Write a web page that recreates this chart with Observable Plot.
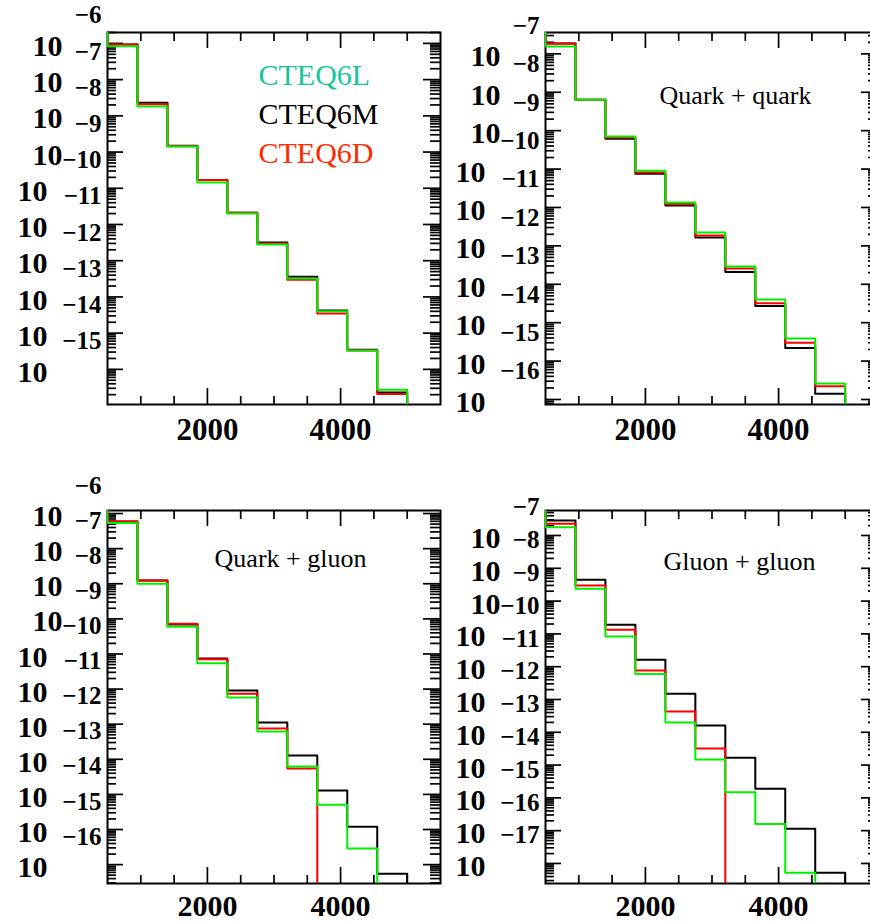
<!DOCTYPE html>
<html><head><meta charset="utf-8">
<script src="https://cdn.jsdelivr.net/npm/d3@7"></script>
<script src="https://cdn.jsdelivr.net/npm/@observablehq/plot@0.6"></script>
<style>
html,body{margin:0;padding:0;background:#fff;overflow:hidden;}
#fig{position:relative;width:870px;height:923px;overflow:hidden;background:#fff;}
#fig svg{position:absolute;}
</style></head><body><div id="fig"></div>
<script>
// ---- data ----
const binEdges = [500, 950, 1400, 1850, 2300, 2750, 3200, 3650, 4100, 4550, 5000];
const xMajorTicks = [2000, 4000];
const xMinorTicks = [1000, 1500, 2500, 3000, 3500, 4500, 5000];
const seriesNames = ["CTEQ6L", "CTEQ6M", "CTEQ6D"];

// total
const totalL = [8.3e-7, 1.8e-8, 1.43e-9, 1.45e-10, 2.0e-11, 2.8e-12, 3.2e-13, 4.0e-14, 3.3e-15, 2.75e-16];
const totalM = [9.3e-7, 2.3e-8, 1.5e-9, 1.7e-10, 2.1e-11, 3.2e-12, 3.6e-13, 4.2e-14, 3.5e-15, 2.3e-16];
const totalD = [9.3e-7, 2.1e-8, 1.45e-9, 1.7e-10, 2.1e-11, 3.0e-12, 3.0e-13, 3.5e-14, 3.3e-15, 2.1e-16];
// quark + quark
const qqL = [1.55e-7, 6.4e-9, 7.0e-10, 9.1e-11, 1.35e-11, 2.24e-12, 2.9e-13, 4.0e-14, 3.9e-15, 2.6e-16];
const qqM = [1.86e-7, 6.4e-9, 6.2e-10, 7.6e-11, 1.12e-11, 1.65e-12, 2.1e-13, 2.7e-14, 2.2e-15, 1.4e-16];
const qqD = [1.86e-7, 6.4e-9, 6.6e-10, 8.1e-11, 1.24e-11, 1.86e-12, 2.57e-13, 3.2e-14, 3.0e-15, 2.2e-16];
// quark + gluon
const qgL = [5.4e-7, 1.0e-8, 6.0e-10, 5.4e-11, 5.8e-12, 6.2e-13, 6.2e-14, 5.1e-15, 2.9e-16, 0];
const qgM = [5.9e-7, 1.23e-8, 6.9e-10, 7.4e-11, 9.1e-12, 1.12e-12, 1.29e-13, 1.29e-14, 1.2e-15, 5.5e-17];
const qgD = [5.9e-7, 1.23e-8, 7.2e-10, 7.1e-11, 7.4e-12, 7.5e-13, 5.5e-14, 0, 0, 0];
// gluon + gluon
const ggL = [1.79e-7, 2.37e-9, 8.3e-11, 6.0e-12, 2.0e-13, 1.48e-14, 1.48e-15, 1.6e-16, 5.2e-18, 0];
const ggM = [2.86e-7, 4.46e-9, 1.9e-10, 1.63e-11, 1.5e-12, 1.6e-13, 1.67e-14, 1.9e-15, 1.15e-16, 5.2e-18];
const ggD = [2.27e-7, 3.0e-9, 1.33e-10, 7.7e-12, 4.3e-13, 3.2e-14, 0, 0, 0, 0];

// decade tick label exponents per panel
const totalDecades = [-6, -7, -8, -9, -10, -11, -12, -13, -14, -15];
const qqDecades = [-7, -8, -9, -10, -11, -12, -13, -14, -15, -16];
const qgDecades = [-6, -7, -8, -9, -10, -11, -12, -13, -14, -15, -16];
const ggDecades = [-7, -8, -9, -10, -11, -12, -13, -14, -15, -16, -17];

const panelTitles = ["", "Quark + quark", "Quark + gluon", "Gluon + gluon"];

// ---- styling ----
const serif = "'Liberation Serif', 'Times New Roman', Times, serif";
const lineColors = ["#00f000", "#000000", "#ff0000"];
const legendColors = ["#17c79b", "#000000", "#ff2a00"];

function panel(cfg) {
  const {left, top, width, height, mL, mR, mT, mB, yDomain, decades, L, M, D, title, titleDx, titleDy, legend, xLabelDy, xLabelSize} = cfg;
  const fw = width - mL - mR, fh = height - mT - mB;
  const [lo, hi] = yDomain;
  const eMin = Math.floor(Math.log10(lo)), eMax = Math.ceil(Math.log10(hi));
  const major = [], minor = [];
  for (let e = eMin; e <= eMax; e++) {
    const b = Math.pow(10, e);
    if (b >= lo && b <= hi) major.push(b);
    for (let k = 2; k <= 9; k++) { const v = k * b; if (v >= lo && v <= hi) minor.push(v); }
  }
  const rows = [];
  for (const [name, arr] of [["CTEQ6M", M], ["CTEQ6D", D], ["CTEQ6L", L]]) {
    rows.push({series: name, x: binEdges[0], y: hi});
    let n = 0;
    arr.forEach((v, i) => { if (v > 0) { rows.push({series: name, x: binEdges[i], y: v}); n = i + 1; } });
    rows.push({series: name, x: binEdges[n], y: lo});
  }
  const one = decades.filter(e => String(-e).length === 1);
  const two = decades.filter(e => String(-e).length === 2);
  const tickStyle = {stroke: "#000", strokeWidth: 1.7};
  const txt = {fontFamily: serif, fill: "#000", lineAnchor: "middle"};
  const marks = [
    Plot.frame({stroke: "#000", strokeWidth: 2}),
    Plot.tickY(major, {y: d => d, insetRight: fw - 16, ...tickStyle}),
    Plot.tickY(minor, {y: d => d, insetRight: fw - 9, ...tickStyle}),
    Plot.tickY(major, {y: d => d, insetLeft: fw - 17, ...tickStyle}),
    Plot.tickY(minor, {y: d => d, insetLeft: fw - 10, ...tickStyle}),
    Plot.tickX(xMajorTicks, {x: d => d, insetTop: fh - 16, ...tickStyle}),
    Plot.tickX(xMinorTicks, {x: d => d, insetTop: fh - 8, ...tickStyle}),
    Plot.tickX(xMajorTicks, {x: d => d, insetBottom: fh - 16, ...tickStyle}),
    Plot.tickX(xMinorTicks, {x: d => d, insetBottom: fh - 9, ...tickStyle}),
    Plot.line(rows, {x: "x", y: "y", z: "series", stroke: "series", curve: "step-after", strokeWidth: 2, clip: true}),
    Plot.text(one, {y: e => Math.pow(10, e), text: () => "10", frameAnchor: "left", textAnchor: "end", dx: -45, dy: 3, fontSize: 30, fontWeight: "bold", ...txt}),
    Plot.text(two, {y: e => Math.pow(10, e), text: () => "10", frameAnchor: "left", textAnchor: "end", dx: -60, dy: 3, fontSize: 30, fontWeight: "bold", ...txt}),
    Plot.text(decades, {y: e => Math.pow(10, e), text: e => "\u2212" + (-e), frameAnchor: "left", textAnchor: "end", dx: -6, dy: -28, fontSize: 25, fontWeight: "bold", ...txt}),
    Plot.text(xMajorTicks, {x: d => d, text: d => String(d), frameAnchor: "bottom", dy: xLabelDy, fontSize: xLabelSize, fontWeight: "bold", ...txt})
  ];
  if (title) {
    marks.push(Plot.text([title], {text: d => d, frameAnchor: "top-left", textAnchor: "middle", dx: titleDx, dy: titleDy, fontSize: 26, ...txt}));
  }
  if (legend) {
    seriesNames.forEach((name, i) => {
      marks.push(Plot.text([name], {text: d => d, frameAnchor: "top-left", textAnchor: "start", dx: 151, dy: 43 + 39 * i, fontSize: 30, ...txt, fill: legendColors[i]}));
    });
  }
  const svg = Plot.plot({
    width, height, marginLeft: mL, marginRight: mR, marginTop: mT, marginBottom: mB,
    style: {background: "transparent", overflow: "visible"},
    x: {domain: [500, 5500], axis: null},
    y: {type: "log", domain: [lo, hi], axis: null},
    color: {domain: seriesNames, range: lineColors},
    marks
  });
  svg.style.left = left + "px";
  svg.style.top = top + "px";
  document.getElementById("fig").appendChild(svg);
}

panel({left: 0, top: 0, width: 445, height: 460, mL: 107, mR: 5, mT: 32, mB: 56,
  yDomain: [1.07e-16, 2.0e-6], decades: totalDecades, L: totalL, M: totalM, D: totalD, legend: true,
  xLabelDy: 26, xLabelSize: 31});
panel({left: 445, top: 0, width: 434, height: 460, mL: 100, mR: 1, mT: 32, mB: 56,
  yDomain: [7.4e-17, 3.6e-7], decades: qqDecades, L: qqL, M: qqM, D: qqD,
  title: panelTitles[1], titleDx: 190, titleDy: 63, xLabelDy: 26, xLabelSize: 31});
panel({left: 0, top: 460, width: 445, height: 463, mL: 107, mR: 5, mT: 50, mB: 40,
  yDomain: [2.9e-17, 1.22e-6], decades: qgDecades, L: qgL, M: qgM, D: qgD,
  title: panelTitles[2], titleDx: 183, titleDy: 48, xLabelDy: 23, xLabelSize: 30});
panel({left: 445, top: 460, width: 434, height: 463, mL: 100, mR: 1, mT: 50, mB: 40,
  yDomain: [2.45e-18, 5.78e-7], decades: ggDecades, L: ggL, M: ggM, D: ggD,
  title: panelTitles[3], titleDx: 194, titleDy: 51, xLabelDy: 23, xLabelSize: 30});
</script></body></html>
